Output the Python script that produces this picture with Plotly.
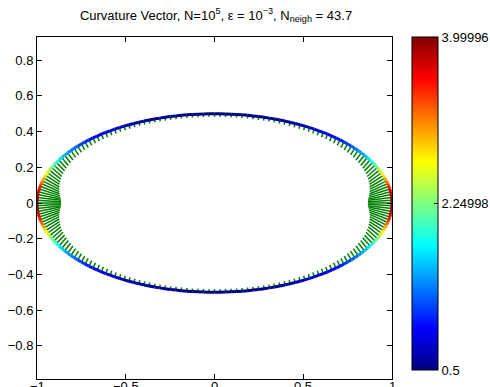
import numpy as np
import plotly.graph_objects as go

# ---- data (first quadrant; the figure is symmetric about both axes) ----
x_q1 = [1.0000, 0.9995, 0.9980, 0.9956, 0.9921, 0.9877, 0.9823, 0.9759, 0.9686, 0.9603,
        0.9511, 0.9409, 0.9298, 0.9178, 0.9048, 0.8910, 0.8763, 0.8607, 0.8443, 0.8271,
        0.8090, 0.7902, 0.7705, 0.7501, 0.7290, 0.7071, 0.6845, 0.6613, 0.6374, 0.6129,
        0.5878, 0.5621, 0.5358, 0.5090, 0.4818, 0.4540, 0.4258, 0.3971, 0.3681, 0.3387,
        0.3090, 0.2790, 0.2487, 0.2181, 0.1874, 0.1564, 0.1253, 0.0941, 0.0628, 0.0314,
        0.0000]
y_q1 = [0.0000, 0.0157, 0.0314, 0.0471, 0.0627, 0.0782, 0.0937, 0.1091, 0.1243, 0.1395,
        0.1545, 0.1694, 0.1841, 0.1986, 0.2129, 0.2270, 0.2409, 0.2545, 0.2679, 0.2810,
        0.2939, 0.3065, 0.3187, 0.3307, 0.3423, 0.3536, 0.3645, 0.3751, 0.3853, 0.3951,
        0.4045, 0.4135, 0.4222, 0.4304, 0.4382, 0.4455, 0.4524, 0.4589, 0.4649, 0.4704,
        0.4755, 0.4801, 0.4843, 0.4880, 0.4911, 0.4938, 0.4961, 0.4978, 0.4990, 0.4998,
        0.5000]
curv_q1 = [4.000, 3.982, 3.930, 3.846, 3.733, 3.597, 3.442, 3.274, 3.099, 2.920,
           2.741, 2.567, 2.398, 2.237, 2.085, 1.943, 1.811, 1.688, 1.575, 1.471,
           1.376, 1.290, 1.210, 1.138, 1.072, 1.012, 0.957, 0.908, 0.862, 0.821,
           0.784, 0.750, 0.719, 0.691, 0.666, 0.643, 0.623, 0.604, 0.587, 0.572,
           0.559, 0.547, 0.537, 0.528, 0.520, 0.514, 0.509, 0.505, 0.502, 0.501,
           0.500]

x_ticks = [-1, -0.5, 0, 0.5, 1]
x_ticktext = ["−1", "−0.5", "0", "0.5", "1"]
y_ticks = [-0.8, -0.6, -0.4, -0.2, 0, 0.2, 0.4, 0.6, 0.8]
y_ticktext = ["−0.8", "−0.6", "−0.4", "−0.2", "0", "0.2", "0.4", "0.6", "0.8"]
cbar_min, cbar_max = 0.5, 3.99996
cbar_ticks = [0.5, 2.24998, 3.99996]
cbar_ticktext = ["0.5", "2.24998", "3.99996"]

FONT = "Liberation Sans, Arial, Helvetica"

# ---- assemble the full closed curve (counter-clockwise) by symmetry ----
xq, yq, kq = np.array(x_q1), np.array(y_q1), np.array(curv_q1)
X = np.concatenate([xq, -xq[-2::-1], -xq[1:], xq[-2:0:-1]])
Y = np.concatenate([yq, yq[-2::-1], -yq[1:], -yq[-2:0:-1]])
K = np.concatenate([kq, kq[-2::-1], kq[1:], kq[-2:0:-1]])
n = len(X)

# inward normals from neighbouring points
Tx = np.roll(X, -1) - np.roll(X, 1)
Ty = np.roll(Y, -1) - np.roll(Y, 1)
L = np.hypot(Tx, Ty)
Nx, Ny = -Ty / L, Tx / L
SCALE = 0.034
U, V = SCALE * K * Nx, SCALE * K * Ny


def jet(v):
    v = min(max(v, 0.0), 1.0)
    r = min(max(1.5 - abs(4 * v - 3), 0), 1)
    g = min(max(1.5 - abs(4 * v - 2), 0), 1)
    b = min(max(1.5 - abs(4 * v - 1), 0), 1)
    return f"rgb({int(round(r*255))},{int(round(g*255))},{int(round(b*255))})"


fig = go.Figure()

# quiver (curvature vectors)
qx, qy = [], []
for i in range(n):
    qx += [X[i], X[i] + U[i], None]
    qy += [Y[i], Y[i] + V[i], None]
fig.add_trace(go.Scatter(x=qx, y=qy, mode="lines",
                         line=dict(color="rgb(0,128,0)", width=1.5),
                         hoverinfo="skip", showlegend=False))

# curve coloured by curvature (64-level jet like MATLAB)
groups = {}
for i in range(n):
    j = (i + 1) % n
    kv = 0.5 * (K[i] + K[j])
    idx = int(round((kv - cbar_min) / (cbar_max - cbar_min) * 63))
    idx = min(max(idx, 0), 63)
    groups.setdefault(idx, ([], []))
    groups[idx][0].extend([X[i], X[j], None])
    groups[idx][1].extend([Y[i], Y[j], None])
for idx, (gx, gy) in sorted(groups.items()):
    fig.add_trace(go.Scatter(x=gx, y=gy, mode="lines",
                             line=dict(color=jet(idx / 63), width=3),
                             hoverinfo="skip", showlegend=False))

jet_scale = [[0, "rgb(0,0,128)"], [0.125, "rgb(0,0,255)"], [0.375, "rgb(0,255,255)"],
             [0.625, "rgb(255,255,0)"], [0.875, "rgb(255,0,0)"], [1, "rgb(128,0,0)"]]

# colorbar carrier
fig.add_trace(go.Scatter(
    x=[0, 0], y=[0, 0], mode="markers",
    marker=dict(color=[cbar_min, cbar_max], colorscale=jet_scale, cmin=cbar_min,
                cmax=cbar_max, opacity=0, size=1,
                colorbar=dict(
                    x=1.056, xanchor="left", xpad=0, y=1.0, yanchor="top", ypad=0,
                    lenmode="pixels", len=333, thicknessmode="pixels", thickness=26,
                    outlinewidth=1, outlinecolor="black",
                    tickvals=cbar_ticks, ticktext=cbar_ticktext,
                    ticks="inside", ticklen=4, tickcolor="black",
                    tickfont=dict(family=FONT, size=13, color="black"))),
    hoverinfo="skip", showlegend=False))

axis_common = dict(showgrid=False, zeroline=False, showline=True, linecolor="black",
                   linewidth=1, mirror="ticks", ticks="inside", ticklen=5,
                   tickcolor="black", automargin=False,
                   tickfont=dict(family=FONT, size=13, color="black"))

# x tick labels as annotations so that they sit just under the axis like the reference
annotations = [dict(x=v, y=0, xref="x", yref="paper", text=t, showarrow=False,
                    xanchor="center", yanchor="top", yshift=2,
                    font=dict(family=FONT, size=13, color="black"))
               for v, t in zip(x_ticks, x_ticktext)]

fig.update_layout(
    width=490, height=387,
    margin=dict(l=37, r=98, t=37, b=8, autoexpand=False),
    paper_bgcolor="white", plot_bgcolor="white",
    title=dict(text="Curvature Vector, N=10<sup>5</sup>, ε = 10<sup>−3</sup>, N<sub>neigh</sub> = 43.7",
               x=216 / 490, xanchor="center",
               y=1 - 15 / 387, yanchor="middle", yref="container",
               font=dict(family=FONT, size=13, color="black")),
    xaxis=dict(range=[-1, 1], tickvals=x_ticks, showticklabels=False, **axis_common),
    yaxis=dict(range=[-0.986, 0.93], tickvals=y_ticks, ticktext=y_ticktext, **axis_common),
    annotations=annotations,
)

fig.write_html(
    "out.html",
    config={"displayModeBar": False},
    post_script="document.body.style.margin='0';document.body.style.padding='0';"
                "document.body.style.overflow='hidden';"
                "document.documentElement.style.overflow='hidden';",
)
